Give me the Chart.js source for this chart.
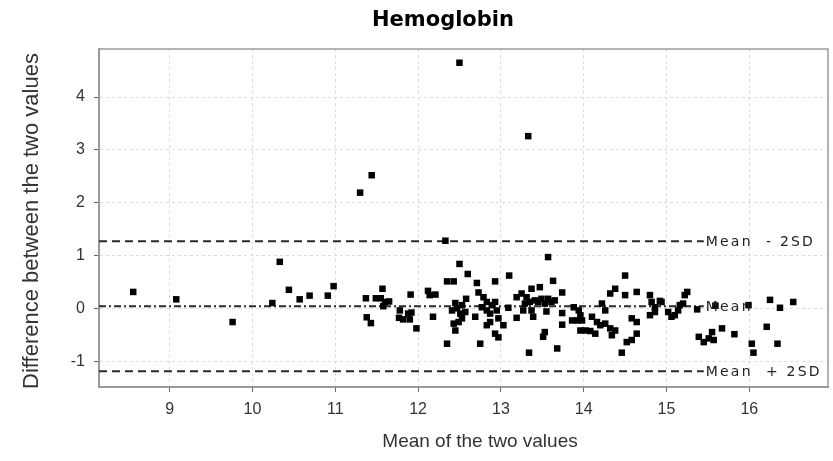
<!DOCTYPE html>
<html>
<head>
<meta charset="utf-8">
<script src="https://cdn.jsdelivr.net/npm/chart.js@4/dist/chart.umd.min.js"></script>
<style>
  html, body { margin: 0; padding: 0; background: #fff; }
  #wrap { width: 833px; height: 461px; }
</style>
</head>
<body>
<div id="wrap"><canvas id="baChart" width="833" height="461"></canvas></div>
<script>
// Bland-Altman data: mean of the two values / difference between them
const meanValues = [
    8.56, 9.08, 9.76, 10.24, 10.33, 10.44, 10.57, 10.69, 10.91, 10.98,
    11.30, 11.44, 12.50, 13.33,
    11.37, 11.57, 11.49, 11.55, 11.60, 11.65, 11.58, 11.91, 11.38, 11.43,
    11.78, 11.77, 11.82, 11.88, 11.92, 11.90, 11.98, 12.12, 12.21, 12.14, 12.18,
    12.33, 12.50, 12.60, 12.35, 12.43, 12.71, 12.93, 13.10, 12.73, 12.79,
    12.58, 12.45, 12.53, 12.83, 12.89, 12.93, 12.41, 12.47, 12.51, 12.57,
    12.69, 12.77, 12.83, 12.87, 12.95, 12.43, 12.49, 12.53, 12.45, 12.83,
    12.87, 12.97, 13.03, 12.93, 12.97, 12.35, 12.75, 13.09, 13.19, 13.25,
    13.31, 13.35, 13.29, 13.37, 13.27, 13.19, 13.34,
    13.57, 13.63, 13.47, 13.74, 13.37, 13.41, 13.45, 13.49, 13.53, 13.57,
    13.61, 13.65, 13.55, 13.39, 13.74, 13.74, 13.53, 13.51, 13.68, 13.88,
    13.94, 13.96, 13.86, 13.92, 13.98, 13.96, 14.02, 14.08, 14.14, 14.10,
    14.16, 14.20, 14.26, 14.32, 14.38, 14.34, 14.22, 14.26, 14.32, 14.38,
    14.50, 14.50, 14.46,
    14.64, 14.58, 14.64, 14.64, 14.58, 14.52, 14.80, 14.82, 14.86, 14.92,
    14.94, 14.80, 14.86, 15.02, 15.06, 15.10, 15.14, 15.16, 15.20, 15.25,
    15.22, 15.37, 15.39, 15.45, 15.51, 15.55, 15.57, 15.67, 15.59,
    15.99, 16.25, 16.37, 16.53, 15.82, 16.21, 16.03, 16.05, 16.34
];
const diffValues = [
    0.31, 0.17, -0.26, 0.10, 0.88, 0.35, 0.17, 0.24, 0.24, 0.42,
    2.19, 2.52, 4.65, 3.26,
    0.19, 0.37, 0.19, 0.19, 0.12, 0.13, 0.04, 0.26, -0.17, -0.28,
    -0.04, -0.18, -0.21, -0.10, -0.08, -0.21, -0.38, 0.33, 0.26, 0.25, -0.16,
    1.28, 0.84, 0.65, 0.51, 0.51, 0.48, 0.51, 0.62, 0.30, 0.21,
    0.18, 0.10, 0.06, 0.12, 0.06, 0.12, -0.04, 0.00, -0.10, -0.07,
    -0.16, 0.02, -0.04, -0.10, -0.04, -0.29, -0.26, -0.19, -0.42, -0.32,
    -0.26, -0.19, -0.32, -0.48, -0.55, -0.67, -0.67, 0.01, 0.21, 0.28,
    0.21, 0.12, 0.09, -0.04, -0.04, -0.18, -0.84,
    0.97, 0.52, 0.40, 0.30, 0.37, 0.15, 0.12, 0.18, 0.09, 0.18,
    0.12, 0.15, -0.06, -0.16, -0.09, -0.31, -0.45, -0.54, -0.76, 0.02,
    -0.04, -0.13, -0.23, -0.23, -0.23, -0.42, -0.42, -0.43, -0.48, -0.16,
    -0.26, -0.32, -0.29, -0.38, -0.42, -0.51, 0.09, -0.04, 0.28, 0.37,
    0.62, 0.25, -0.84,
    0.31, -0.19, -0.26, -0.48, -0.60, -0.64, 0.25, 0.12, 0.02, 0.14,
    0.12, -0.13, -0.07, -0.07, -0.16, -0.13, -0.04, 0.06, 0.09, 0.31,
    0.25, -0.02, -0.54, -0.64, -0.57, -0.45, -0.60, -0.38, 0.05,
    0.06, 0.16, 0.01, 0.12, -0.49, -0.35, -0.67, -0.84, -0.67
];

// reference lines (labels as printed on the chart)
const meanDiff = 0.04;
const sdDiff = 0.615;
const refLabels = ['Mean  - 2SD', 'Mean', 'Mean  + 2SD'];
const refValues = [meanDiff + 2 * sdDiff, meanDiff, meanDiff - 2 * sdDiff];

const xTicks = [9, 10, 11, 12, 13, 14, 15, 16];
const yTicks = [-1, 0, 1, 2, 3, 4];

const xMin = 8.147, xMax = 16.95;
const yMin = -1.49, yMax = 4.91;
const lineEnd = 15.45;  // reference lines stop where their label starts

const points = meanValues.map((m, i) => ({ x: m, y: diffValues[i] }));

function refLine(value, dash) {
    return {
        data: [{ x: xMin, y: value }, { x: lineEnd, y: value }],
        showLine: true,
        pointRadius: 0,
        borderColor: '#2a2a2a',
        borderWidth: 2,
        borderDash: dash,
        fill: false
    };
}

/** draws the title, axis titles, plot frame and reference line labels */
const extrasPlugin = {
    id: 'extras',
    beforeDatasetsDraw(chart) {
        const { ctx, chartArea } = chart;
        ctx.save();
        ctx.strokeStyle = '#9a9a9a';
        ctx.lineWidth = 1.5;
        ctx.strokeRect(chartArea.left, chartArea.top, chartArea.width, chartArea.height);
        ctx.restore();
    },
    afterDraw(chart) {
        const { ctx } = chart;
        const x = chart.scales.x, y = chart.scales.y;
        ctx.save();
        ctx.fillStyle = '#000';
        ctx.textAlign = 'center';
        ctx.textBaseline = 'middle';
        ctx.font = 'bold 21px "DejaVu Sans"';
        ctx.fillText('Hemoglobin', 443, 21);

        ctx.fillStyle = '#333';
        ctx.font = '19px "Liberation Sans"';
        ctx.fillText('Mean of the two values', 480, 442);

        ctx.save();
        ctx.translate(32, 221);
        ctx.rotate(-Math.PI / 2);
        ctx.font = '22px "Liberation Sans"';
        ctx.fillText('Difference between the two values', 0, 0);
        ctx.restore();

        ctx.textAlign = 'left';
        ctx.fillStyle = '#222';
        ctx.font = '14px "DejaVu Sans"';
        ctx.letterSpacing = '2.2px';
        refLabels.forEach((txt, i) => {
            ctx.fillText(txt, x.getPixelForValue(lineEnd) + 2, y.getPixelForValue(refValues[i]) + 1);
        });
        ctx.restore();
    }
};

function drawChart() {
    const ctx = document.getElementById('baChart').getContext('2d');
    const tickFont = { family: 'Liberation Sans', size: 16 };

    new Chart(ctx, {
        type: 'scatter',
        data: {
            datasets: [
                {
                    data: points,
                    pointStyle: 'rect',
                    pointRadius: 4.6,
                    backgroundColor: '#000',
                    borderColor: '#000',
                    borderWidth: 0
                },
                refLine(refValues[0], [8, 5]),
                refLine(refValues[1], [7, 3, 2, 3]),
                refLine(refValues[2], [8, 5])
            ]
        },
        options: {
            responsive: false,
            animation: false,
            layout: { padding: { top: 49, right: 5, left: 0, bottom: 0 } },
            plugins: {
                legend: { display: false },
                tooltip: { enabled: false },
                title: { display: false }
            },
            scales: {
                x: {
                    type: 'linear',
                    min: xMin,
                    max: xMax,
                    afterBuildTicks: s => { s.ticks = xTicks.map(v => ({ value: v })); },
                    afterFit: s => { s.height = 74; },
                    grid: { color: '#dcdcdc', tickColor: '#666', tickLength: 5, tickBorderDash: [] },
                    border: { color: '#9a9a9a', width: 2, dash: [3, 3] },
                    ticks: { font: tickFont, color: '#333', padding: 8, maxRotation: 0 }
                },
                y: {
                    type: 'linear',
                    min: yMin,
                    max: yMax,
                    afterBuildTicks: s => { s.ticks = yTicks.map(v => ({ value: v })); },
                    afterFit: s => { s.width = 99; },
                    grid: { color: '#dcdcdc', tickColor: '#666', tickLength: 5, tickBorderDash: [] },
                    border: { color: '#9a9a9a', width: 2, dash: [3, 3] },
                    ticks: { font: tickFont, color: '#333', padding: 9 }
                }
            }
        },
        plugins: [extrasPlugin]
    });
}

document.addEventListener('DOMContentLoaded', () => {
    drawChart();
});
</script>
</body>
</html>
